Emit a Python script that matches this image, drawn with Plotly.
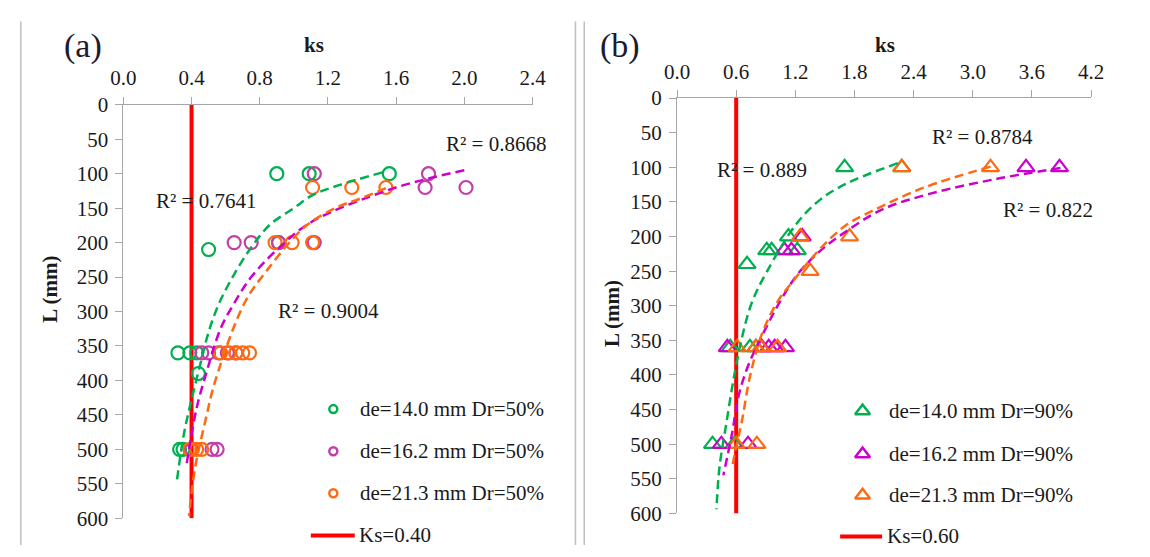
import plotly.graph_objects as go

W, H = 1150, 557
FONT = "'Liberation Serif', 'Times New Roman', Times, serif"

GREEN = "#00B050"
PURPLE_A = "#C23FA9"
MAGENTA = "#CC00CC"
ORANGE = "#FF6A10"
RED = "#FF0000"

# ---------------- Panel (a): Dr = 50 % ----------------
a_green_ks = [0.90, 1.09, 1.56, 0.50, 0.91, 0.32, 0.39, 0.43, 0.44, 0.33, 0.35]
a_green_L = [100, 100, 100, 210, 200, 360, 360, 360, 390, 500, 500]
a_purple_ks = [1.12, 1.79, 1.77, 2.01, 0.65, 0.75, 0.91, 1.12, 0.46, 0.50, 0.56, 0.61, 0.66, 0.40, 0.52, 0.55]
a_purple_L = [100, 100, 120, 120, 200, 200, 200, 200, 360, 360, 360, 360, 360, 500, 500, 500]
a_orange_ks = [1.11, 1.34, 1.54, 0.89, 0.99, 1.11, 0.57, 0.62, 0.66, 0.70, 0.74, 0.39, 0.43, 0.46]
a_orange_L = [120, 120, 120, 200, 200, 200, 360, 360, 360, 360, 360, 500, 500, 500]

# trend lines
a_tr_green_ks = [1.52, 1.26, 1.11, 1.00, 0.86, 0.75, 0.65, 0.56, 0.50, 0.46, 0.40, 0.355, 0.315]
a_tr_green_L = [98, 117, 131, 150, 174, 207, 246, 289, 330, 368, 428, 478, 544]
a_tr_purple_ks = [2.00, 1.79, 1.55, 1.11, 0.92, 0.75, 0.65, 0.57, 0.48, 0.43, 0.37]
a_tr_purple_L = [95, 107, 124, 169, 206, 250, 288, 325, 395, 440, 523]
a_tr_orange_ks = [1.54, 1.38, 1.26, 1.07, 0.84, 0.71, 0.54, 0.48, 0.42, 0.385]
a_tr_orange_L = [121, 137, 148, 176, 241, 288, 400, 460, 528, 597]
a_ks_ref = 0.40

# ---------------- Panel (b): Dr = 90 % ----------------
b_green_ks = [1.70, 2.28, 1.13, 0.91, 0.96, 1.22, 0.71, 0.54, 0.74, 0.80, 0.36, 0.58]
b_green_L = [100, 100, 200, 220, 220, 220, 240, 360, 360, 360, 500, 500]
b_purple_ks = [3.54, 3.88, 1.27, 1.09, 1.16, 0.51, 0.86, 0.93, 0.99, 1.10, 0.45, 0.72]
b_purple_L = [100, 100, 200, 220, 220, 360, 360, 360, 360, 360, 500, 500]
b_orange_ks = [2.28, 3.18, 1.25, 1.75, 1.35, 0.61, 0.80, 0.85, 1.02, 0.60, 0.81]
b_orange_L = [100, 100, 200, 200, 250, 360, 360, 360, 360, 500, 500]

b_tr_green_ks = [2.24, 1.71, 1.45, 1.22, 0.91, 0.76, 0.66, 0.575, 0.50, 0.43, 0.40]
b_tr_green_L = [94, 124, 147, 180, 251, 295, 345, 405, 470, 534, 594]
b_tr_purple_ks = [3.89, 3.23, 2.57, 2.08, 1.71, 1.45, 1.22, 1.06, 0.92, 0.72, 0.62, 0.56, 0.47]
b_tr_purple_L = [101, 117, 138, 161, 193, 221, 255, 290, 327, 387, 433, 483, 545]
b_tr_orange_ks = [3.18, 2.51, 1.98, 1.71, 1.45, 1.19, 1.02, 0.86, 0.74, 0.66, 0.59, 0.555]
b_tr_orange_L = [99, 129, 163, 184, 218, 262, 294, 341, 402, 465, 511, 535]
b_ks_ref = 0.60

L_ticks = list(range(0, 601, 50))
a_x_ticks = [0.0, 0.4, 0.8, 1.2, 1.6, 2.0, 2.4]
b_x_ticks = [0.0, 0.6, 1.2, 1.8, 2.4, 3.0, 3.6, 4.2]

legend_a = ["de=14.0 mm Dr=50%", "de=16.2 mm Dr=50%", "de=21.3 mm Dr=50%", "Ks=0.40"]
legend_b = ["de=14.0 mm Dr=90%", "de=16.2 mm Dr=90%", "de=21.3 mm Dr=90%", "Ks=0.60"]
r2_a = ["R² = 0.8668", "R² = 0.7641", "R² = 0.9004"]
r2_b = ["R² = 0.8784", "R² = 0.889", "R² = 0.822"]


def px(x):
    return x / W


def py(y):
    return 1 - y / H


fig = go.Figure()

DASH = "9px,5px"


def add_panel(xa, ya, ref, pts, trends, symbol, size, lw):
    fig.add_trace(go.Scatter(x=[ref, ref], y=[0, 600], mode="lines",
                             line=dict(color=RED, width=4), xaxis=xa, yaxis=ya,
                             showlegend=False, hoverinfo="skip"))
    for (xs, ys, col) in pts:
        fig.add_trace(go.Scatter(x=xs, y=ys, mode="markers", xaxis=xa, yaxis=ya,
                                 marker=dict(symbol=symbol, size=size, color=col,
                                             line=dict(color=col, width=lw)),
                                 showlegend=False))
    for (xs, ys, col) in trends:
        fig.add_trace(go.Scatter(x=xs, y=ys, mode="lines", xaxis=xa, yaxis=ya,
                                 line=dict(color=col, width=2.5, dash=DASH,
                                           shape="spline", smoothing=1.0),
                                 showlegend=False, hoverinfo="skip"))


add_panel("x", "y", a_ks_ref,
          [(a_green_ks, a_green_L, GREEN), (a_purple_ks, a_purple_L, PURPLE_A),
           (a_orange_ks, a_orange_L, ORANGE)],
          [(a_tr_green_ks, a_tr_green_L, GREEN), (a_tr_purple_ks, a_tr_purple_L, MAGENTA),
           (a_tr_orange_ks, a_tr_orange_L, ORANGE)],
          "circle-open", 13, 2.2)
add_panel("x2", "y2", b_ks_ref,
          [(b_green_ks, b_green_L, GREEN), (b_purple_ks, b_purple_L, MAGENTA),
           (b_orange_ks, b_orange_L, ORANGE)],
          [(b_tr_green_ks, b_tr_green_L, GREEN), (b_tr_purple_ks, b_tr_purple_L, MAGENTA),
           (b_tr_orange_ks, b_tr_orange_L, ORANGE)],
          "triangle-up-open", 15, 2.2)

# ---- manual legends on a full-canvas pixel overlay axis ----
leg_a_x, leg_a_rows, leg_a_txt = 328, [415, 459, 503], 353
leg_b_x, leg_b_rows, leg_b_txt = 870, [417, 462, 505], 895
for cols, sym, sz, mx, rows in [([GREEN, PURPLE_A, ORANGE], "circle-open", 8, leg_a_x, leg_a_rows),
                                ([GREEN, MAGENTA, ORANGE], "triangle-up-open", 13, leg_b_x, leg_b_rows)]:
    for c, r in zip(cols, rows):
        fig.add_trace(go.Scatter(x=[mx], y=[r], mode="markers", xaxis="x3", yaxis="y3",
                                 marker=dict(symbol=sym, size=sz, color=c, line=dict(color=c, width=2.5)),
                                 showlegend=False, hoverinfo="skip"))
for x0, x1, yy in [(305, 350, 547), (847, 890, 548)]:
    fig.add_trace(go.Scatter(x=[x0, x1], y=[yy, yy], mode="lines", xaxis="x3", yaxis="y3",
                             line=dict(color=RED, width=4), showlegend=False, hoverinfo="skip"))

annotations = []


def text(x, y, s, size=21, xanchor="left", bold=False, angle=0, color="#1a1a1a"):
    annotations.append(dict(x=px(x), y=py(y), xref="paper", yref="paper", text=("<b>%s</b>" % s) if bold else s,
                            showarrow=False, xanchor=xanchor, yanchor="middle", textangle=angle,
                            font=dict(family=FONT, size=size, color=color)))


for lbl, r in zip(legend_a[:3], leg_a_rows):
    text(leg_a_txt, r, lbl)
text(352, 547, legend_a[3])
for lbl, r in zip(legend_b[:3], leg_b_rows):
    text(leg_b_txt, r, lbl)
text(893, 548, legend_b[3])

for s, (x, y) in zip(r2_a, [(495, 138), (198, 198), (323, 312)]):
    text(x, y, s, xanchor="center")
for s, (x, y) in zip(r2_b, [(993, 131), (767, 165), (1060, 207)]):
    text(x, y, s, xanchor="center")

text(308, 34, "ks", bold=True, xanchor="center")
text(893, 34, "ks", bold=True, xanchor="center")
text(37, 290, "L (mm)", bold=True, xanchor="center", angle=-90)
text(614, 315, "L (mm)", bold=True, xanchor="center", angle=-90)
text(72, 36, "(a)", size=34, xanchor="center", color="#1c1a30")
text(622, 36, "(b)", size=34, xanchor="center", color="#1c1a30")

shapes = []
for xx in [8, 576, 585]:
    shapes.append(dict(type="line", xref="paper", yref="paper", x0=px(xx), x1=px(xx), y0=py(10), y1=0,
                       line=dict(color="#BFBFBF", width=1.5)))

axis_common = dict(showline=True, linecolor="#A6A6A6", linewidth=1, ticks="outside", ticklen=7,
                   tickcolor="#A6A6A6", showgrid=False, zeroline=False, ticklabelstandoff=3,
                   tickfont=dict(family=FONT, size=21, color="#1a1a1a"), fixedrange=True)

fig.update_layout(
    width=W, height=H, margin=dict(l=0, r=0, t=0, b=0),
    paper_bgcolor="white", plot_bgcolor="rgba(0,0,0,0)",
    font=dict(family=FONT, size=21, color="#1a1a1a"),
    showlegend=False,
    xaxis=dict(domain=[px(113), px(532)], range=[0, 2.4], side="top", anchor="y",
               tickvals=a_x_ticks, tickformat=".1f", **axis_common),
    yaxis=dict(domain=[py(529), py(97)], range=[600, 0], anchor="x",
               tickvals=L_ticks, **axis_common),
    xaxis2=dict(domain=[px(680), px(1104)], range=[0, 4.2], side="top", anchor="y2",
                tickvals=b_x_ticks, tickformat=".1f", **axis_common),
    yaxis2=dict(domain=[py(524), py(90)], range=[600, 0], anchor="x2",
                tickvals=L_ticks, **axis_common),
    xaxis3=dict(domain=[0, 1], range=[0, W], visible=False, anchor="y3", fixedrange=True),
    yaxis3=dict(domain=[0, 1], range=[H, 0], visible=False, anchor="x3", fixedrange=True),
    annotations=annotations, shapes=shapes,
)

fig.write_html("out.html")
